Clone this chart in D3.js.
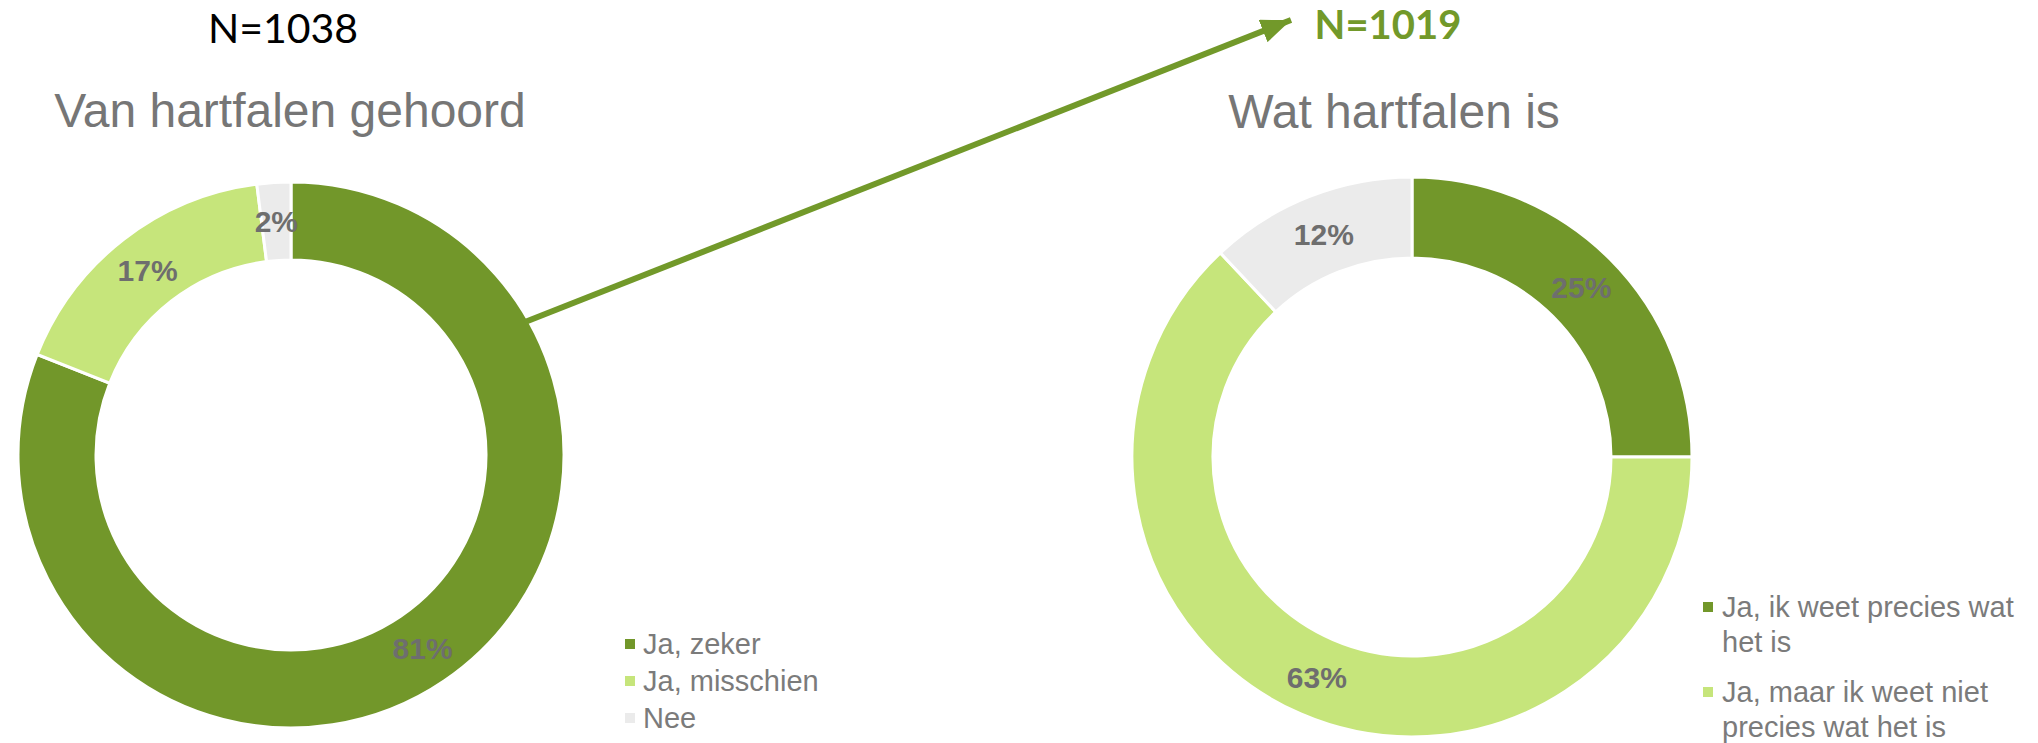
<!doctype html>
<html lang='en'>

<head>
    <meta charset='UTF-8'>
    <title>Hartfalen</title>
    <style>
        html,
        body {
            margin: 0;
            background: #fff;
        }

        svg {
            display: block;
            font-family: "Liberation Sans", Arial, sans-serif;
        }

        .title {
            font-size: 48px;
            fill: #767676;
        }

        .pct {
            font-size: 30px;
            font-weight: bold;
            fill: #6e6e6e;
        }

        .legend text {
            font-size: 29px;
            fill: #7b7b7b;
        }

        .n {
            font-family: Lato, "Open Sans", sans-serif;
            font-size: 41px;
        }
    </style>
</head>

<body>
    <script src='https://d3js.org/d3.v7.min.js'></script>
    <div class='chart'></div>
    <script>
        // answers, in the order they run clockwise from 12 o'clock
        const leftCategories = ['Ja, zeker', 'Ja, misschien', 'Nee'];
        const leftValues = [81, 17, 2];

        const rightCategories = ['Ja, ik weet precies wat het is', 'Ja, maar ik weet niet precies wat het is', 'Nee'];
        const rightValues = [25, 63, 12];
        // how the right legend wraps its labels (third item falls below the picture)
        const rightLegendLines = [['Ja, ik weet precies wat', 'het is'], ['Ja, maar ik weet niet', 'precies wat het is']];

        const leftN = 'N=1038';
        const rightN = 'N=1019';

        const config = {
            width: 2038,
            height: 743,
            colors: ['#72972a', '#c6e57b', '#ebebeb'],
            arrowColor: '#72992a',
            left: {cx: 291, cy: 455, outer: 273, inner: 195, title: 'Van hartfalen gehoord', titleX: 290, titleY: 127},
            right: {cx: 1412, cy: 457, outer: 280, inner: 199, title: 'Wat hartfalen is', titleX: 1394, titleY: 128}
        };

        const svg = d3.select('.chart')
            .append('svg')
            .attr('width', config.width)
            .attr('height', config.height);

        const pie = d3.pie().sort(null).value((d) => d);

        function drawDonut(opts, categories, values) {
            const color = d3.scaleOrdinal().domain(categories).range(config.colors);
            const arc = d3.arc().innerRadius(opts.inner).outerRadius(opts.outer);
            const labelArc = d3.arc()
                .innerRadius((opts.inner + opts.outer) / 2)
                .outerRadius((opts.inner + opts.outer) / 2);

            const g = svg.append('g')
                .attr('transform', 'translate(' + opts.cx + ',' + opts.cy + ')');

            const slices = pie(values);

            g.selectAll('path')
                .data(slices)
                .enter()
                .append('path')
                .attr('d', arc)
                .attr('fill', (d, i) => color(categories[i]))
                .attr('stroke', '#fff')
                .attr('stroke-width', 3);

            g.selectAll('text')
                .data(slices)
                .enter()
                .append('text')
                .classed('pct', true)
                .attr('transform', (d) => 'translate(' + labelArc.centroid(d) + ')')
                .attr('text-anchor', 'middle')
                .attr('dy', '0.36em')
                .text((d) => d.data + '%');

            svg.append('text')
                .classed('title', true)
                .attr('x', opts.titleX)
                .attr('y', opts.titleY)
                .attr('text-anchor', 'middle')
                .text(opts.title);

            return color;
        }

        const leftColor = drawDonut(config.left, leftCategories, leftValues);
        const rightColor = drawDonut(config.right, rightCategories, rightValues);

        // left legend: one line per item
        const legendL = svg.append('g').classed('legend', true);
        const rowL = legendL.selectAll('g')
            .data(leftCategories)
            .enter()
            .append('g')
            .attr('transform', (d, i) => 'translate(625,' + (654 + i * 37) + ')');
        rowL.append('rect')
            .attr('x', 0)
            .attr('y', -15)
            .attr('width', 10)
            .attr('height', 10)
            .attr('fill', (d) => leftColor(d));
        rowL.append('text')
            .attr('x', 18)
            .text((d) => d);

        // right legend: wrapped items
        const legendR = svg.append('g').classed('legend', true);
        const rowR = legendR.selectAll('g')
            .data(rightLegendLines)
            .enter()
            .append('g')
            .attr('transform', (d, i) => 'translate(1703,' + (617 + i * 85) + ')');
        rowR.append('rect')
            .attr('x', 0)
            .attr('y', -15)
            .attr('width', 10)
            .attr('height', 10)
            .attr('fill', (d, i) => rightColor(rightCategories[i]));
        rowR.append('text')
            .attr('x', 19)
            .selectAll('tspan')
            .data((d) => d)
            .enter()
            .append('tspan')
            .attr('x', 19)
            .attr('dy', (d, i) => i === 0 ? 0 : 35)
            .text((d) => d);

        // sample sizes
        svg.append('text')
            .classed('n', true)
            .attr('x', 283)
            .attr('y', 43)
            .attr('text-anchor', 'middle')
            .style('fill', '#000')
            .text(leftN);

        svg.append('text')
            .classed('n', true)
            .attr('x', 1388)
            .attr('y', 39)
            .attr('text-anchor', 'middle')
            .style('font-size', '40px')
            .style('font-weight', 'bold')
            .style('fill', config.arrowColor)
            .text(rightN);

        // arrow from the first donut towards the second sample size
        svg.append('defs')
            .append('marker')
            .attr('id', 'head')
            .attr('markerUnits', 'userSpaceOnUse')
            .attr('viewBox', '0 0 30 24')
            .attr('refX', 30)
            .attr('refY', 12)
            .attr('markerWidth', 30)
            .attr('markerHeight', 24)
            .attr('orient', 'auto')
            .append('path')
            .attr('d', 'M0,0 L30,12 L0,24 Z')
            .attr('fill', config.arrowColor);

        svg.append('line')
            .attr('x1', 525)
            .attr('y1', 322)
            .attr('x2', 1291)
            .attr('y2', 20)
            .attr('stroke', config.arrowColor)
            .attr('stroke-width', 6)
            .attr('marker-end', 'url(#head)');
    </script>
</body>

</html>
